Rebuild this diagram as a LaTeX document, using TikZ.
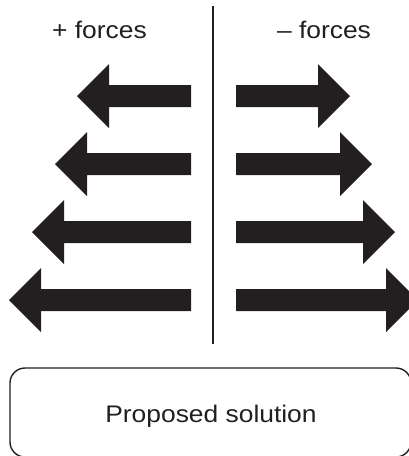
\documentclass[tikz,border=0pt]{standalone}
\usepackage{fontspec}
\setmainfont{Liberation Sans}
\definecolor{ink}{HTML}{231F20}
\begin{document}
\begin{tikzpicture}[x=1pt,y=-1pt,
  lbl/.style={anchor=base,inner sep=0pt,text=ink,font=\fontsize{24}{28}\selectfont},
  forcearrow/.style={fill=ink,draw=none}]
\useasboundingbox (0,0) rectangle (409,456);
\begin{scope}
\clip (0,0) rectangle (409,456);
% labels
\node[lbl] (plus) at (99.5,38) {\scalebox{1.1}[1]{+ forces}};
\node[lbl] (minus) at (324,38) {\scalebox{1.1}[1]{– forces}};
% divider
\draw[ink,line width=2pt] (213,6) -- (213,344);
% arrows
\foreach \y/\tl/\tr in {96/77/350,164/55/372,232/32/395,300/9/418}{
  \fill[forcearrow] (191,\y-11) -- (\tl+32,\y-11) -- (\tl+32,\y-32) -- (\tl,\y)
     -- (\tl+32,\y+32) -- (\tl+32,\y+11) -- (191,\y+11) -- cycle;
  \fill[forcearrow] (236,\y-11) -- (\tr-32,\y-11) -- (\tr-32,\y-32) -- (\tr,\y)
     -- (\tr-32,\y+32) -- (\tr-32,\y+11) -- (236,\y+11) -- cycle;
}
% box
\draw[ink,line width=1.4pt,rounded corners=15pt] (10,368) rectangle (411,457);
\node[lbl] (sol) at (211,422) {\scalebox{1.1}[1]{Proposed solution}};
\end{scope}
\end{tikzpicture}
\end{document}
